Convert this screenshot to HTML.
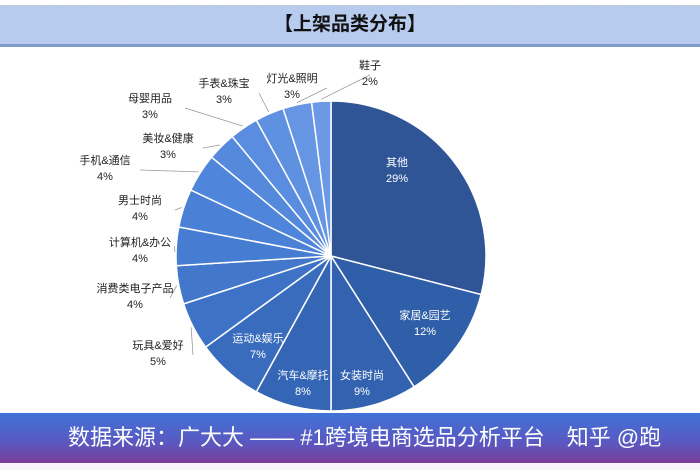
<!DOCTYPE html>
<html><head><meta charset="utf-8"><style>
body{margin:0;width:700px;height:470px;overflow:hidden;background:#fff;font-family:"Liberation Sans","Noto Sans CJK SC",sans-serif}
#title{position:absolute;left:0;top:5px;width:700px;height:38px;background:#b7cbef;border-bottom:3px solid #7f9bc8;border-top:1px dashed #ccc;text-align:center;line-height:38px;font-size:19px;font-weight:bold;color:#111}
#banner{position:absolute;left:0;top:413px;width:700px;height:50px;background:linear-gradient(#3f73d8,#5a58c0 60%,#7b3d98);color:#fff;font-size:22px;line-height:50px;padding-left:68px;box-sizing:border-box;white-space:nowrap}
#foot{position:absolute;left:0;top:463px;width:700px;height:7px;background:#fbf3fb}
</style></head><body>
<div id="title">【上架品类分布】</div>
<svg width="700" height="470" style="position:absolute;left:0;top:0">
<g id="pie"></g>
</svg>
<div id="banner">数据来源：广大大 —— #1跨境电商选品分析平台　知乎 @跑</div>
<div id="foot"></div>
<script>
const categories=["其他","家居&园艺","女装时尚","汽车&摩托","运动&娱乐","玩具&爱好","消费类电子产品","计算机&办公","男士时尚","手机&通信","美妆&健康","母婴用品","手表&珠宝","灯光&照明","鞋子"];
const values=[29,12,9,8,7,5,4,4,4,4,3,3,3,3,2];
const colors=["#2f5597","#2f5fa8","#3262b0","#3466b5","#3a6cbd","#3e72c6","#4277cc","#467cd2","#4a80d6","#4f85da","#5589dc","#5a8ddf","#5f91e1","#6595e3","#6b99e5"];
const outside=[null,null,null,null,null,[158,349],[135,292],[140,246],[140,204],[105,164],[168,142],[150,102],[224,87],[292,82],[370,69]];
const inside=[[397,166],[425,319],[362,379],[303,379],[258,342]];
const cx=331,cy=256,r=155;
const g=document.getElementById('pie');const ns="http://www.w3.org/2000/svg";
const total=values.reduce((a,b)=>a+b,0);let a0=0;
values.forEach((v,i)=>{
 const a1=a0+v/total*2*Math.PI;
 const p=t=>[cx+r*Math.sin(t),cy-r*Math.cos(t)];
 const [x0,y0]=p(a0),[x1,y1]=p(a1);
 const path=document.createElementNS(ns,'path');
 path.setAttribute('d',`M${cx},${cy}L${x0},${y0}A${r},${r} 0 ${a1-a0>Math.PI?1:0} 1 ${x1},${y1}Z`);
 path.setAttribute('fill',colors[i]);path.setAttribute('stroke','#fff');path.setAttribute('stroke-width','1.5');
 
 
 g.appendChild(path);
 const am=(a0+a1)/2;let lx,ly,fill;
 if(outside[i]){[lx,ly]=outside[i];fill='#222';
  const [ex,ey]=[cx+(r+2)*Math.sin(am),cy-(r+2)*Math.cos(am)];
  const ln=document.createElementNS(ns,'line');
  ln.setAttribute('x1',ex);ln.setAttribute('y1',ey);ln.setAttribute('x2',lx+(lx<cx?35:0));ln.setAttribute('y2',ly+6);
  ln.setAttribute('stroke','#999');ln.setAttribute('stroke-width','0.8');
  
  
  g.appendChild(ln);
 } else {[lx,ly]=inside[i];fill='#fff';}
 const t=document.createElementNS(ns,'text');
 t.setAttribute('x',lx);t.setAttribute('y',ly);t.setAttribute('text-anchor','middle');t.setAttribute('font-size','11');t.setAttribute('fill',fill);
 
 
 const s1=document.createElementNS(ns,'tspan');s1.setAttribute('x',lx);s1.textContent=categories[i];
 const s2=document.createElementNS(ns,'tspan');s2.setAttribute('x',lx);s2.setAttribute('dy','16');s2.textContent=values[i]+'%';
 t.appendChild(s1);t.appendChild(s2);g.appendChild(t);
 a0=a1;
});
</script>
</body></html>
